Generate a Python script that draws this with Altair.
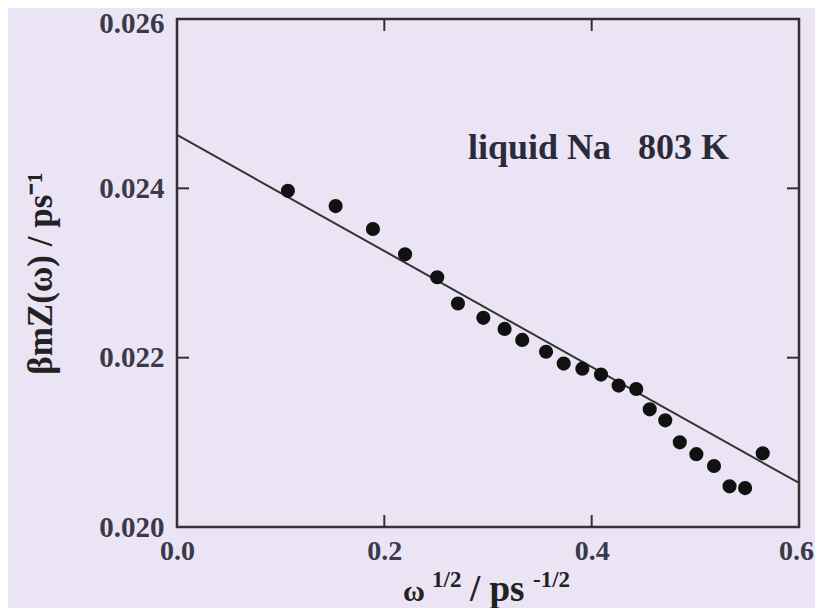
import altair as alt
import pandas as pd

# data
omega_sqrt = [0.107, 0.153, 0.189, 0.220, 0.251, 0.271, 0.2955, 0.316, 0.333, 0.356,
              0.373, 0.391, 0.409, 0.426, 0.443, 0.456, 0.471, 0.485, 0.501, 0.518,
              0.533, 0.548, 0.565]
bmz = [0.02397, 0.02379, 0.02352, 0.02322, 0.02295, 0.02264, 0.02247, 0.02234, 0.02221, 0.02207,
       0.02193, 0.02187, 0.02180, 0.02167, 0.02163, 0.02139, 0.02126, 0.02100, 0.02086, 0.02072,
       0.02048, 0.02046, 0.02087]
fit_x = [0.0, 0.6]
fit_y = [0.02463, 0.02052]
x_ticks = [0.0, 0.2, 0.4, 0.6]
y_ticks = [0.020, 0.022, 0.024, 0.026]
inner_x_ticks = [0.2, 0.4]
inner_y_ticks = [0.022, 0.024]

W, H = 622, 508
BG = "#EAE4F4"
FONT = "Times New Roman, Liberation Serif, serif"

pts = pd.DataFrame({"x": omega_sqrt, "y": bmz})
fit = pd.DataFrame({"x": fit_x, "y": fit_y})
xt = pd.DataFrame({"v": inner_x_ticks})
yt = pd.DataFrame({"v": inner_y_ticks})

xscale = alt.Scale(domain=[0, 0.6], nice=False, zero=False)
yscale = alt.Scale(domain=[0.020, 0.026], nice=False, zero=False)

xaxis = alt.Axis(values=x_ticks, format=".1f", title=None, grid=False, ticks=False,
                 domain=False, labelFont=FONT, labelFontSize=28, labelFontWeight="bold",
                 labelColor="#3a3a4a", labelPadding=10, labelFlush=False,
                 labelOffset=alt.ConditionalAxisNumber(
                     condition={"test": "datum.value > 0.55", "value": -3}, value=0))
yaxis = alt.Axis(values=y_ticks, format=".3f", title="βmZ(ω) / ps⁻¹", grid=False, ticks=False,
                 domain=False, labelFont=FONT, labelFontSize=29, labelFontWeight="bold",
                 labelColor="#3a3a4a", labelPadding=13, labelFlush=False,
                 labelOffset=alt.ConditionalAxisNumber(
                     condition={"test": "datum.value > 0.0255", "value": 4}, value=0),
                 titleFont=FONT, titleFontSize=35, titleFontWeight="bold", titleColor="#222",
                 titlePadding=40)

line = alt.Chart(fit).mark_line(color="#333333", strokeWidth=2).encode(
    x=alt.X("x:Q", scale=xscale, axis=xaxis),
    y=alt.Y("y:Q", scale=yscale, axis=yaxis),
)
points = alt.Chart(pts).mark_circle(size=200, color="#111111", opacity=1).encode(
    x=alt.X("x:Q", scale=xscale),
    y=alt.Y("y:Q", scale=yscale),
)

# inward ticks
tb = alt.Chart(xt).mark_rule(color="#333", strokeWidth=2).encode(
    x=alt.X("v:Q", scale=xscale), y=alt.value(H), y2=alt.value(H - 12))
tt = alt.Chart(xt).mark_rule(color="#333", strokeWidth=2).encode(
    x=alt.X("v:Q", scale=xscale), y=alt.value(0), y2=alt.value(12))
tl = alt.Chart(yt).mark_rule(color="#333", strokeWidth=2).encode(
    y=alt.Y("v:Q", scale=yscale), x=alt.value(0), x2=alt.value(12))
tr = alt.Chart(yt).mark_rule(color="#333", strokeWidth=2).encode(
    y=alt.Y("v:Q", scale=yscale), x=alt.value(W), x2=alt.value(W - 12))

label = alt.Chart(pd.DataFrame({"t": ["liquid Na\u00a0\u00a0\u00a0803 K"]})).mark_text(
    font=FONT, fontSize=36, fontWeight="bold", color="#2a2a3a", align="left", baseline="alphabetic"
).encode(text="t:N", x=alt.value(291), y=alt.value(140))

def tx(s, x, y, size):
    return alt.Chart(pd.DataFrame({"t": [s]})).mark_text(
        font=FONT, fontSize=size, fontWeight="bold", color="#222", align="left",
        baseline="alphabetic").encode(text="t:N", x=alt.value(x), y=alt.value(y))

xt1 = tx("ω", 226, H + 74, 30)
xt2 = tx("1/2", 255, H + 60, 23)
xt3 = tx("/ ps", 293, H + 74, 37)
xt4 = tx("-1/2", 356, H + 60, 23)

chart = alt.layer(line, points, tb, tt, tl, tr, label, xt1, xt2, xt3, xt4).properties(
    width=W, height=H, background=BG,
    autosize=alt.AutoSizeParams(type="none"),
    padding={"left": 169, "top": 11, "right": 16, "bottom": 81},
).configure_view(stroke="#333333", strokeWidth=2.5)

chart.save("out.html", embed_options={"renderer": "svg", "actions": False})
